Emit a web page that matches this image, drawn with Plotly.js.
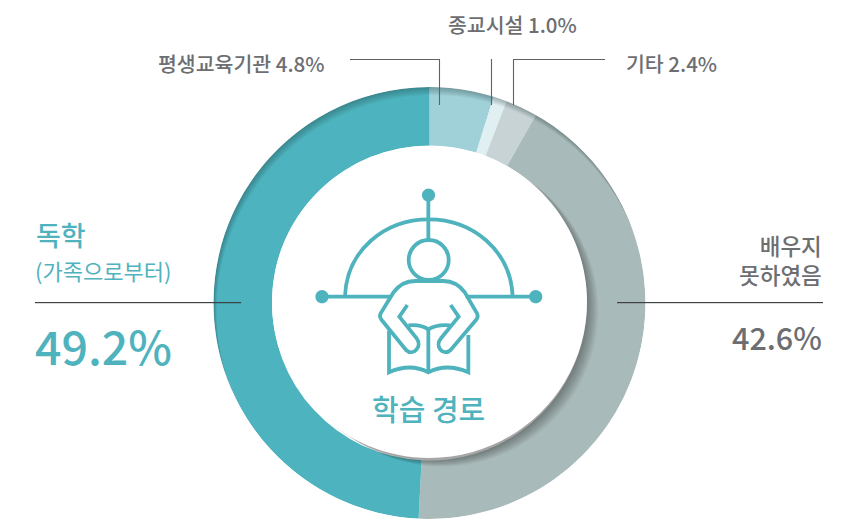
<!DOCTYPE html>
<html>
<head>
<meta charset="utf-8">
<script src="https://cdn.plot.ly/plotly-3.0.1.min.js"></script>
<style>html,body{margin:0;padding:0;background:#fff;overflow:hidden}</style>
</head>
<body>
<div id="chart" style="width:849px;height:522px"></div>
<script>
const categories = ['평생교육기관', '종교시설', '기타', '배우지 못하였음', '독학 (가족으로부터)'];
const shares = [4.8, 1.0, 2.4, 42.6, 49.2];
const sliceColors = ['#A0D1D8', '#E0F0F2', '#C8D3D6', '#A9BABA', '#4DB3BE'];
const TEAL = '#4FB3BE', GREY = '#6D6E71';
const W = 849, H = 522, CX = 429.5, CY = 303, R = 216, RIN = 157.5;
const FONT = '"Noto Sans CJK KR","Noto Sans",sans-serif';

const px = x => x / W, py = y => 1 - y / H;
const P = (x, y) => px(x) + ',' + py(y);
function circlePath(cx, cy, rx, ry) {
  ry = ry || rx; const k = 0.5523;
  return 'M' + P(cx - rx, cy) +
    'C' + P(cx - rx, cy - k * ry) + ' ' + P(cx - k * rx, cy - ry) + ' ' + P(cx, cy - ry) +
    'C' + P(cx + k * rx, cy - ry) + ' ' + P(cx + rx, cy - k * ry) + ' ' + P(cx + rx, cy) +
    'C' + P(cx + rx, cy + k * ry) + ' ' + P(cx + k * rx, cy + ry) + ' ' + P(cx, cy + ry) +
    'C' + P(cx - k * rx, cy + ry) + ' ' + P(cx - rx, cy + k * ry) + ' ' + P(cx - rx, cy) + 'Z';
}
const pageRect = 'M' + P(0, 0) + 'L' + P(W, 0) + 'L' + P(W, H) + 'L' + P(0, H) + 'Z';
const fillShape = (path, color) => ({type: 'path', xref: 'paper', yref: 'paper', path, fillcolor: color, line: {width: 0}});
const strokeShape = (path, color, width) => ({type: 'path', xref: 'paper', yref: 'paper', path, fillcolor: 'rgba(0,0,0,0)', line: {color, width}});
function pathOf(cmds) {
  return cmds.map(c => c[0] + c.slice(1).reduce((acc, v, i, a) => {
    if (i % 2 === 0) acc.push(P(a[i], a[i + 1]));
    return acc;
  }, []).join(' ')).join('');
}
const Z = (...v) => v.map((n, i) => i % 2 === 0 ? 300 + n / 3 : 170 + n / 3);
const zc = (c, ...v) => [c, ...Z(...v)];

const shapes = [];
// soft inset shade along the outer top-left edge
for (let d = 1; d <= 9; d++) {
  shapes.push(fillShape(pageRect + circlePath(CX + 0.35 * d, CY + 0.9 * d, R), 'rgba(30,50,55,0.038)'));
}
shapes.push(fillShape(pageRect + circlePath(CX, CY, R), '#ffffff'));
// shadow of the central disc on the ring
for (let d = 1; d <= 15; d++) {
  shapes.push(fillShape(circlePath(CX + 0.85 * d, CY + 0.5 * d, RIN - 1.5), 'rgba(40,45,45,0.032)'));
}
shapes.push(fillShape(circlePath(CX, CY - 1, RIN, 156), '#ffffff'));

// leader lines
const LEAD = '#5f6163';
[
  [['M', 350, 59.5], ['L', 439.5, 59.5], ['L', 439.5, 105]],
  [['M', 491.5, 59], ['L', 491.5, 105]],
  [['M', 605, 59.5], ['L', 513.5, 59.5], ['L', 513.5, 105]]
].forEach(c => shapes.push(strokeShape(pathOf(c), LEAD, 1.1)));
// rules
[[35, 241], [617, 823]].forEach(([a, b]) => {
  shapes.push(strokeShape(pathOf([['M', a, 303.5], ['L', b, 303.5]]), 'rgba(0,0,0,0.14)', 1));
  shapes.push(strokeShape(pathOf([['M', a, 302.5], ['L', b, 302.5]]), '#3f4142', 1));
});

// icon
const IW = 3.8;
const iconStrokes = [
  [zc('M', 385, 75), zc('L', 385, 210)],
  [zc('M', 66, 380), zc('L', 275, 380)],
  [zc('M', 497, 380), zc('L', 707, 380)],
  [zc('M', 135, 380), zc('C', 140, 240, 255, 148, 386, 148), zc('C', 517, 148, 632, 240, 638, 380)],
  // body and arms
  [zc('M', 322, 405), zc('L', 298, 440), zc('L', 350, 505), zc('C', 368, 530, 340, 560, 318, 540),
   zc('L', 245, 450), zc('Q', 235, 437, 245, 425), zc('L', 280, 368), zc('Q', 305, 333, 345, 333),
   zc('L', 430, 333), zc('Q', 470, 333, 495, 368), zc('L', 528, 425), zc('Q', 538, 438, 528, 450),
   zc('L', 452, 540), zc('C', 430, 560, 402, 530, 423, 505), zc('L', 476, 440), zc('L', 452, 405)],
  // book
  [zc('M', 267, 482), zc('L', 267, 607), zc('Q', 330, 578, 385, 607), zc('Q', 440, 578, 505, 607), zc('L', 505, 495)],
  [zc('M', 385, 478), zc('L', 385, 607)],
  [zc('M', 325, 466), zc('Q', 362, 462, 385, 478), zc('Q', 410, 462, 450, 466)]
];
iconStrokes.forEach(c => shapes.push(strokeShape(pathOf(c), TEAL, IW)));
shapes.push(strokeShape(circlePath(428.7, 260, 20), TEAL, IW));
[[428.5, 195], [322, 296.7], [535.7, 296.7]].forEach(([x, y]) => shapes.push(fillShape(circlePath(x, y, 6.6), TEAL)));

const note = (text, x, y, size, color, anchor, weight) => ({
  text, x: px(x), y: py(y), xref: 'paper', yref: 'paper', xanchor: anchor, yanchor: 'middle',
  showarrow: false, align: anchor, font: {family: FONT, size, color, weight: weight || 400}
});
const annotations = [
  note(categories[0] + ' ' + shares[0].toFixed(1) + '%', 327, 63, 20.5, GREY, 'right', 500),
  note(categories[1] + ' ' + shares[1].toFixed(1) + '%', 579, 24, 20.5, GREY, 'right', 500),
  note(categories[2] + ' ' + shares[2].toFixed(1) + '%', 719, 63, 20.5, GREY, 'right', 500),
  note('독학', 34, 234, 27, TEAL, 'left', 500),
  note('(가족으로부터)', 33, 270, 22, TEAL, 'left'),
  note(shares[4].toFixed(1) + '%', 33, 344, 46.5, TEAL, 'left', 500),
  note('배우지<br>못하였음', 824, 259, 22.5, GREY, 'right', 500),
  note(shares[3].toFixed(1) + '%', 824, 337, 30.5, GREY, 'right', 500),
  note('학습 경로', 428.5, 408, 29, TEAL, 'center', 500)
];

Plotly.newPlot('chart', [{
  type: 'pie',
  labels: categories,
  values: shares,
  sort: false,
  direction: 'clockwise',
  rotation: 0,
  hole: RIN / R,
  textinfo: 'none',
  hoverinfo: 'label+percent',
  marker: {colors: sliceColors, line: {width: 0}},
  domain: {x: [(CX - R) / W, (CX + R) / W], y: [1 - (CY + R) / H, 1 - (CY - R) / H]}
}], {
  width: W, height: H,
  margin: {l: 0, r: 0, t: 0, b: 0, pad: 0},
  paper_bgcolor: '#ffffff',
  showlegend: false,
  shapes, annotations
}, {displayModeBar: false, staticPlot: true});
</script>
</body>
</html>
